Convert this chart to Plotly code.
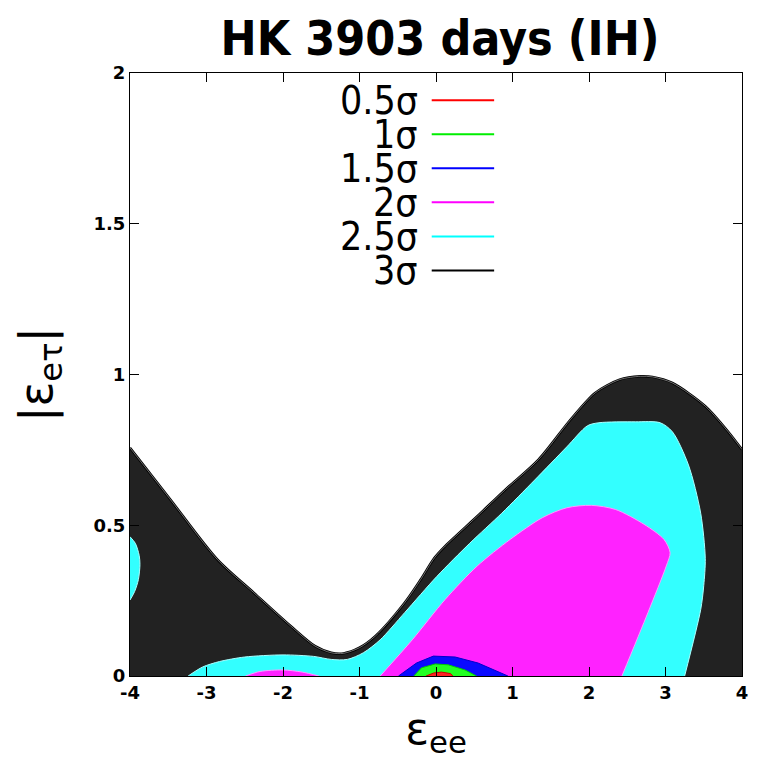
import plotly.graph_objects as go

# ---------------- data ----------------
x_tick_vals = [-4, -3, -2, -1, 0, 1, 2, 3, 4]
x_tick_text = ["-4", "-3", "-2", "-1", "0", "1", "2", "3", "4"]
y_tick_vals = [0, 0.5, 1, 1.5, 2]
y_tick_text = ["0", "0.5", "1", "1.5", "2"]

legend_labels = ["0.5σ", "1σ", "1.5σ", "2σ", "2.5σ", "3σ"]
legend_colors = ["#ff0000", "#00ee00", "#0000ff", "#ff00ff", "#00ffff", "#000000"]

# 3 sigma (black) region upper boundary (region filled down to zero)
black_x = [-4.0, -3.48, -2.86, -2.38, -1.90, -1.58, -1.37, -1.21, -1.00, -0.79, -0.41,
           -0.20, -0.02, 0.12, 0.54, 0.91, 1.34, 1.76, 2.08, 2.40, 2.67, 2.83, 3.09,
           3.52, 3.83, 4.0]
black_y = [0.757, 0.588, 0.387, 0.276, 0.166, 0.099, 0.077, 0.075, 0.094, 0.133, 0.243,
           0.320, 0.392, 0.431, 0.530, 0.619, 0.718, 0.851, 0.939, 0.983, 0.994, 0.992,
           0.972, 0.895, 0.807, 0.751]

# 2.5 sigma (cyan) regions
cyan_x = [-3.24, -3.05, -2.83, -2.50, -2.0, -1.6, -1.37, -1.16, -0.95, -0.73, -0.41, 0.01,
          0.44, 0.86, 1.29, 1.71, 1.98, 2.13, 2.61, 2.93, 3.09, 3.30, 3.46, 3.52, 3.50,
          3.46, 3.25]
cyan_y = [0.0, 0.03, 0.048, 0.063, 0.07, 0.065, 0.055, 0.055, 0.077, 0.12, 0.21, 0.33,
          0.44, 0.54, 0.65, 0.76, 0.83, 0.84, 0.843, 0.84, 0.81, 0.70, 0.54, 0.39, 0.30,
          0.22, 0.0]
cyan_left_x = [-4.0, -3.93, -3.88, -3.87, -3.89, -3.94, -4.0]
cyan_left_y = [0.462, 0.44, 0.40, 0.37, 0.32, 0.28, 0.252]

# 2 sigma (magenta) regions
mag_x = [-0.73, -0.31, 0.12, 0.54, 0.97, 1.39, 1.71, 2.03, 2.35, 2.72, 2.98, 3.06, 3.01,
         2.77, 2.43]
mag_y = [0.0, 0.12, 0.254, 0.365, 0.453, 0.525, 0.558, 0.566, 0.552, 0.503, 0.453, 0.409,
         0.365, 0.21, 0.0]
mag_left_x = [-2.49, -2.3, -2.0, -1.75, -1.53]
mag_left_y = [0.0, 0.015, 0.02, 0.013, 0.0]

# 1.5 sigma (blue), 1 sigma (green), 0.5 sigma (red)
blue_x = [-0.49, -0.255, -0.034, 0.25, 0.55, 0.77, 0.94]
blue_y = [0.0, 0.043, 0.066, 0.063, 0.043, 0.02, 0.0]
green_x = [-0.29, -0.19, -0.01, 0.16, 0.38, 0.53]
green_y = [0.0, 0.027, 0.04, 0.037, 0.02, 0.0]
red_x = [-0.13, -0.03, 0.07, 0.19, 0.22]
red_y = [0.0, 0.01, 0.013, 0.008, 0.0]

COND = "DejaVu Sans Condensed, DejaVu Sans"

# ---------------- figure ----------------
fig = go.Figure()


def region(xs, ys, fill, edge, width=1.2, shape="spline", mode="toself"):
    fig.add_trace(go.Scatter(
        x=xs, y=ys, mode="lines", fill=mode, fillcolor=fill,
        line=dict(color=edge, width=width, shape=shape, smoothing=0.8),
        hoverinfo="skip", showlegend=False))


# black region: white inner highlight + black edge, like the reference
region(black_x, black_y, "#222222", "#000000", 2.4, "spline", "tozeroy")
fig.add_trace(go.Scatter(x=black_x, y=black_y, mode="lines",
                         line=dict(color="#bbbbbb", width=0.6, shape="spline",
                                   smoothing=0.8),
                         hoverinfo="skip", showlegend=False))
region(cyan_x, cyan_y, "#33ffff", "#aaffff", 1.0)
region(cyan_left_x, cyan_left_y, "#33ffff", "#aaffff", 1.0)
region(mag_x, mag_y, "#ff22ff", "#ff99ff", 1.0)
region(mag_left_x, mag_left_y, "#ff22ff", "#ff99ff", 1.0)
region(blue_x, blue_y, "#0a0aff", "#0000cc", 1.0, "linear")
region(green_x, green_y, "#22ff22", "#00cc00", 1.0, "linear")
region(red_x, red_y, "#ff2222", "#cc0000", 1.0, "linear")

# gnuplot-style key: label to the left of a line sample
annotations = []
shapes = []
row0 = 0.955
step = 0.0565
for i, (lab, col) in enumerate(zip(legend_labels, legend_colors)):
    yy = row0 - i * step
    annotations.append(dict(
        xref="paper", yref="paper", x=0.474, y=yy, xanchor="right", yanchor="middle",
        text=lab, showarrow=False,
        font=dict(family=COND, size=39, color="black")))
    shapes.append(dict(
        type="line", xref="paper", yref="paper", x0=0.493, x1=0.595, y0=yy, y1=yy,
        line=dict(color=col, width=2)))

tickfont = dict(family="DejaVu Sans", size=18, color="black", weight="bold")

fig.update_layout(
    width=760, height=760,
    margin=dict(l=130, r=13, t=73, b=84),
    paper_bgcolor="white", plot_bgcolor="white",
    title=dict(text="<b>HK 3903 days (IH)</b>", x=0.579, xref="container",
               y=0.95, yref="container", xanchor="center", yanchor="middle",
               font=dict(family=COND, size=48, color="black")),
    annotations=annotations,
    shapes=shapes,
    showlegend=False,
)

fig.update_xaxes(
    range=[-4, 4], tickvals=x_tick_vals, ticktext=x_tick_text,
    ticks="inside", ticklen=9, tickcolor="black", tickwidth=1,
    showline=True, linecolor="black", linewidth=1, mirror="ticks",
    showgrid=False, zeroline=False, tickfont=tickfont, layer="above traces",
    title=dict(text="ε<sub>ee</sub>", standoff=12,
               font=dict(family="DejaVu Sans", size=44, color="black")),
)
fig.update_yaxes(
    range=[0, 2], tickvals=y_tick_vals, ticktext=y_tick_text,
    ticks="inside", ticklen=9, tickcolor="black", tickwidth=1,
    showline=True, linecolor="black", linewidth=1, mirror="ticks",
    showgrid=False, zeroline=False, tickfont=tickfont, layer="above traces",
    title=dict(text="|ε<sub>eτ</sub>|", standoff=26,
               font=dict(family="DejaVu Sans", size=46, color="black")),
)

fig.write_html("out.html")
